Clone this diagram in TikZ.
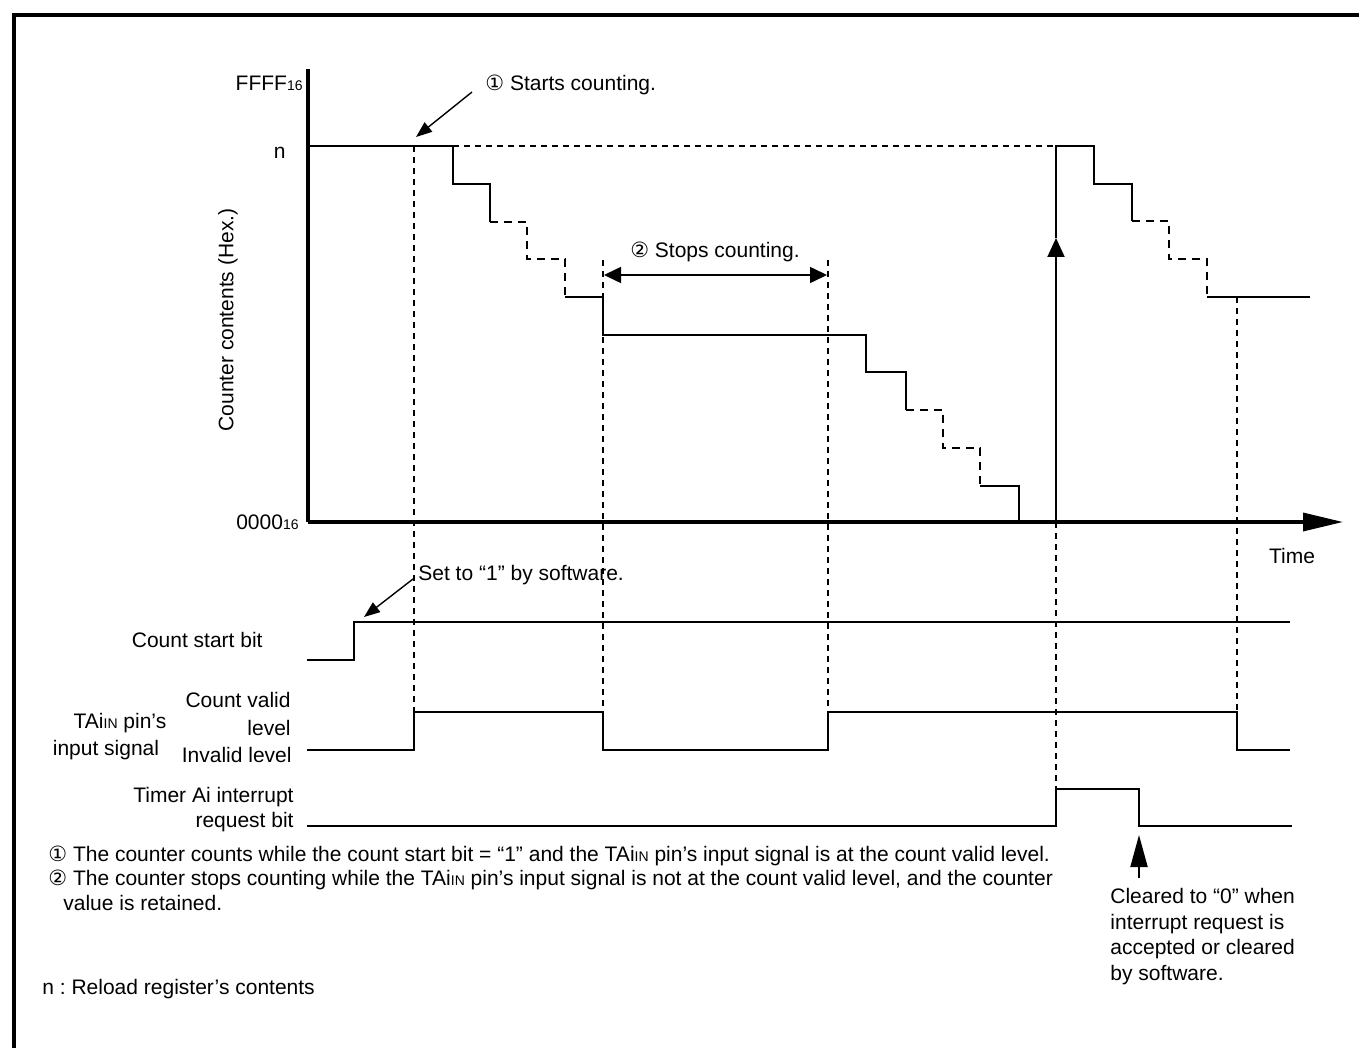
\documentclass[tikz,border=0pt]{standalone}
\usepackage{fontspec}
\setmainfont{Liberation Sans}
\newfontfamily\circfont{DejaVu Sans}
\usetikzlibrary{arrows.meta}
\frenchspacing
\newcommand{\hexsub}{{\fontsize{7}{8}\selectfont 16}}
\newcommand{\tain}{TAi{\fontsize{7}{8}\selectfont IN}}
\newcommand{\circone}{{\circfont ①}}
\newcommand{\circtwo}{{\circfont ②}}

\begin{document}
\begin{tikzpicture}[x=0.5pt,y=-0.5pt,
  sig/.style={line width=1pt},
  stepdash/.style={line width=1pt,dash pattern=on 4pt off 3pt},
  guide/.style={line width=0.7pt,dash pattern=on 3pt off 2.5pt},
  axisline/.style={line width=1.7pt},
  lbl/.style={inner sep=0pt,font=\fontsize{10.5}{12.8}\selectfont},
  annot/.style={line width=0.7pt,-{Triangle[length=8pt,width=6pt]}}]
\useasboundingbox (0,0) rectangle (1359,1048);
% objects at depth 100:
\draw[line width=2.3pt] (14,1048) -- (14,15) -- (1359,15);
% objects at depth 90:
\node[lbl,anchor=base east] (ffff) at (303,91) {FFFF\hexsub};
\node[lbl,anchor=base east] (nval) at (286,159) {n};
\node[lbl,anchor=base east] (zero) at (299,529) {0000\hexsub};
\node[lbl,rotate=90] (ylbl) at (228,320) {Counter contents (Hex.)};
\node[lbl] (timelbl) at (1292,556) {Time};
\draw[axisline] (308,69) -- (308,522);
\draw[axisline,-{Triangle[length=20pt,width=9pt]}] (308,522) -- (1343,522);
% objects at depth 75:
\draw[guide] (453,146) -- (1056,146);
\draw[guide] (414,146) -- (414,712);
\draw[guide] (603,260) -- (603,712);
\draw[guide] (828,260) -- (828,712);
\draw[guide] (1237,297) -- (1237,712);
\draw[guide] (1056,522) -- (1056,789);
% objects at depth 60:
\draw[sig] (308,146) -- (453,146) -- (453,184) -- (490,184) -- (490,222);
\draw[stepdash] (490,222) -- (527,222) -- (527,259) -- (565,259) -- (565,297);
\draw[sig] (565,297) -- (603,297) -- (603,335) -- (866,335) -- (866,372)
  -- (906,372) -- (906,410);
\draw[stepdash] (906,410) -- (943,410) -- (943,448) -- (980,448) -- (980,486);
\draw[sig] (980,486) -- (1019,486) -- (1019,522);
\draw[sig,-{Triangle[length=9.5pt,width=8.5pt]}] (1056,522) -- (1056,238);
\draw[sig] (1056,238) -- (1056,146) -- (1094,146) -- (1094,184) -- (1132,184)
  -- (1132,221);
\draw[stepdash] (1132,221) -- (1169,221) -- (1169,259) -- (1207,259) -- (1207,297);
\draw[sig] (1207,297) -- (1310,297);
% objects at depth 50:
\node[lbl,anchor=west] (startlbl) at (485,85) {\circone\ Starts counting.};
\coordinate (startfrom) at (472,92);
\coordinate (startto) at (416,137);
\draw[annot] (startfrom) -- (startto);
\node[lbl] (stoplbl) at (715,252) {\circtwo\ Stops counting.};
\coordinate (stopL) at (604,275);
\coordinate (stopR) at (827,275);
\draw[line width=0.8pt,{Triangle[length=8.5pt,width=8pt]}-{Triangle[length=8.5pt,width=8pt]}] (stopL) -- (stopR);
% objects at depth 40:
\node[lbl,anchor=east] (startbit) at (263,640) {Count start bit};
\draw[sig] (307,660) -- (354,660) -- (354,622) -- (1290,622);
\node[lbl,anchor=west] (setlbl) at (418,575) {Set to ``1'' by software.};
\coordinate (setfrom) at (413,579);
\coordinate (setto) at (364,617);
\draw[annot] (setfrom) -- (setto);
\node[lbl,anchor=east] (valid1) at (291,700) {Count valid};
\node[lbl,anchor=east] (valid2) at (291,728) {level};
\node[lbl,anchor=east] (invalid) at (292,755) {Invalid level};
\node[lbl] (pin1) at (120,723) {\tain\ pin's};
\node[lbl] (pin2) at (106,750) {input signal};
\draw[sig] (307,750) -- (414,750) -- (414,712) -- (603,712) -- (603,750)
  -- (828,750) -- (828,712) -- (1237,712) -- (1237,750) -- (1290,750);
\node[lbl,anchor=east] (irq1) at (294,797) {Timer Ai interrupt};
\node[lbl,anchor=east] (irq2) at (294,822) {request bit};
\draw[sig] (307,826) -- (1056,826) -- (1056,789) -- (1139,789) -- (1139,826)
  -- (1292,826);
\coordinate (clrfrom) at (1139,878);
\coordinate (clrto) at (1139,835);
\draw[line width=1pt,-{Triangle[length=16pt,width=8.5pt]}] (clrfrom) -- (clrto);
\node[lbl,anchor=north west,align=left] (clrlbl) at (1110,888)
  {Cleared to ``0'' when\\interrupt request is\\accepted or cleared\\by software.};
% objects at depth 30:
\node[lbl,anchor=west] (note1) at (48,856) {\circone\ The counter counts while the count start bit = ``1'' and the \tain\ pin's input signal is at the count valid level.};
\node[lbl,anchor=west] (note2) at (48,880) {\circtwo\ The counter stops counting while the \tain\ pin's input signal is not at the count valid level, and the counter};
\node[lbl,anchor=west] (note3) at (63,903) {value is retained.};
\node[lbl,anchor=west] (nnote) at (42,989) {n : Reload register's contents};
\end{tikzpicture}
\end{document}
